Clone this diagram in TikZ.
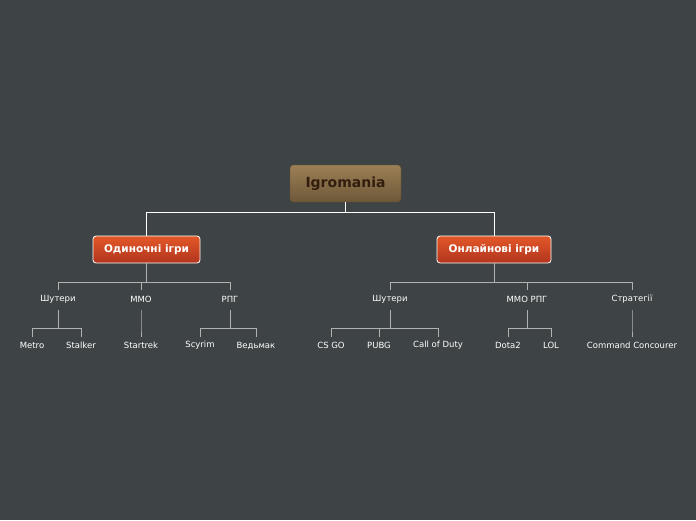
\documentclass[tikz,border=0pt]{standalone}
\usepackage{fontspec}
\setmainfont{DejaVu Sans}
\definecolor{rtop}{RGB}{156,128,86}
\definecolor{rbot}{RGB}{110,88,56}
\definecolor{mtop}{RGB}{228,88,40}
\definecolor{mbot}{RGB}{176,52,30}
\begin{document}
\begin{tikzpicture}[x=1pt,y=-1pt,
  rootbox/.style={rounded corners=3pt,draw=rbot!80!black,top color=rtop,bottom color=rbot,
    minimum width=111pt,minimum height=37pt,text={rgb,255:red,50;green,30;blue,15},font=\bfseries\fontsize{14}{16}\selectfont},
  mainbox/.style={rounded corners=3pt,draw=white,line width=0.8pt,top color=mtop,bottom color=mbot,
    minimum height=27pt,text=white,font=\bfseries\fontsize{10.5}{12}\selectfont},
  leaf/.style={text=white,font=\fontsize{8.5}{10}\selectfont,inner sep=1pt},
  mline/.style={draw=white,line width=0.9pt},
  sline/.style={draw=gray!60!white,line width=0.7pt}]
\fill[fill={rgb,255:red,62;green,68;blue,69}] (0,0) rectangle (696,520);
\useasboundingbox (0,0) rectangle (696,520);
\node[rootbox] (root) at (345.5,183.5) {Igromania};
\node[mainbox,minimum width=107pt] (L) at (146.5,249.5) {Одиночні ігри};
\node[mainbox,minimum width=114pt] (R) at (494,249.5) {Онлайнові ігри};
\foreach \n/\x/\t in {l1/58/Шутери,l2/141/MMO,l3/230/РПГ,r1/390/Шутери,r2/527/MMO РПГ,r3/632/Стратегії}
  \node[leaf] (\n) at (\x,299.5) {\t};
\foreach \n/\x/\t in {a1/32/Metro,a2/81/Stalker,b1/141/Startrek,c1/200/Scyrim,c2/256/Ведьмак,d1/331/CS GO,d2/379/PUBG,d3/438/Call of Duty,e1/508/Dota2,e2/551/LOL,f1/632/Command Concourer}
  \node[leaf] (\n) at (\x,345.5) {\t};
\draw[mline] (root.south) -- ++(0,10) -| (L.north);
\draw[mline] (root.south) ++(0,10) -| (R.north);
\foreach \p/\c in {L/l1,L/l2,L/l3,R/r1,R/r2,R/r3}
  \draw[sline] (\p.south) |- (\c|-0,282) -- (\c|-0,290);
\foreach \p/\c in {l1/a1,l1/a2,l2/b1,l3/c1,l3/c2,r1/d1,r1/d2,r1/d3,r2/e1,r2/e2,r3/f1}
  \draw[sline] (\p|-0,310) |- (\c|-0,328) -- (\c|-0,337);
\end{tikzpicture}
\end{document}
